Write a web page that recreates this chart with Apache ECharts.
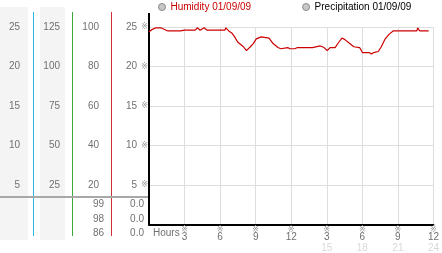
<!DOCTYPE html>
<html><head><meta charset="utf-8">
<script src="https://cdn.jsdelivr.net/npm/echarts@6/dist/echarts.min.js"></script>
<style>html,body{margin:0;padding:0;background:#fff}#c{width:442px;height:253px}</style>
</head><body><div id="c"></div>
<script>
// ---- data ----
const hours = [0.0,0.17,0.58,1.0,1.58,2.66,3.0,3.9,4.07,4.32,4.65,4.9,6.4,6.48,6.73,6.98,7.23,7.48,7.64,7.97,8.22,8.55,8.8,9.05,9.47,10.13,10.47,10.88,11.13,11.71,11.88,12.29,12.38,12.54,13.79,13.95,14.45,14.78,15.03,15.28,15.7,16.03,16.28,16.53,16.86,17.28,17.77,18.02,18.6,18.77,18.94,19.1,19.35,19.6,19.93,20.27,20.6,22.6,22.67,22.84,23.6];
const humidity = [24.4,24.6,24.9,24.9,24.5,24.5,24.6,24.6,24.9,24.6,24.9,24.6,24.6,24.9,24.5,24.25,23.75,23.1,23.25,22.5,22.0,22.5,22.9,23.5,23.75,23.6,22.9,22.4,22.25,22.4,22.25,22.25,22.1,22.4,22.4,22.6,22.6,22.4,22.0,22.4,22.4,23.1,23.6,23.4,23.0,22.5,22.4,21.75,21.75,21.6,21.75,21.6,21.9,22.5,23.5,24.1,24.5,24.5,24.9,24.5,24.5];
const precipitation = [];
const seriesNames = ['Humidity 01/09/09', 'Precipitation 01/09/09'];
const xTickValues = [3,6,9,12,15,18,21,24];
const xTickTop = ['3','6','9','12','3','6','9','12'];
const xTickBottom = ['','','','','15','18','21','24'];
const yTickValues = [5,10,15,20,25];
const yMainLabels = ['5','10','15','20','25'];
const yCol1Labels = ['5','10','15','20','25'];
const yCol2Labels = ['25','50','75','100','125'];
const yCol3Labels = ['20','40','60','80','100'];
const lowCol3 = ['99','98','86'];
const lowCol4 = ['0.0','0.0','0.0'];

// ---- chart ----
const FONT = 'Liberation Sans, Arial, sans-serif';
const GRAY = '#707070';
const MARK = {fontSize:8, color:'#9a9a9a', fontFamily:'DejaVu Sans'};
const chart = echarts.init(document.getElementById('c'), null, {renderer:'canvas'});
const lab = (arr) => (v) => { const i = yTickValues.indexOf(v); return i >= 0 ? arr[i] : ''; };
const extraY = (arr, offset) => ({
  type:'value', min:0, max:25, interval:5, position:'left', offset: offset,
  axisLine:{show:false}, axisTick:{show:false}, splitLine:{show:false},
  axisLabel:{formatter: lab(arr), color:GRAY, fontFamily:FONT, fontSize:10, margin:0}
});
const lowTexts = [];
lowCol3.forEach((t,i)=>lowTexts.push({type:'text', x:104, y:204.5+i*14.3, style:{text:t, fill:GRAY, font:'10px '+FONT, align:'right', verticalAlign:'middle'}}));
lowCol4.forEach((t,i)=>lowTexts.push({type:'text', x:144, y:204.5+i*14.3, style:{text:t, fill:GRAY, font:'10px '+FONT, align:'right', verticalAlign:'middle'}}));

chart.setOption({
  animation:false,
  backgroundColor:'#fff',
  legend:{
    left:158, top:2, padding:0, itemWidth:7, itemHeight:7, itemGap:51, icon:'circle',
    data:[
      {name:seriesNames[0], itemStyle:{color:'#c8c8c8', borderColor:'#8a8a8a', borderWidth:1}, textStyle:{color:'#cc0000'}},
      {name:seriesNames[1], itemStyle:{color:'#c8c8c8', borderColor:'#8a8a8a', borderWidth:1}, textStyle:{color:'#000'}}
    ],
    textStyle:{fontFamily:FONT, fontSize:10}
  },
  grid:{left:149, right:4, top:27, bottom:27, containLabel:false},
  xAxis:{
    type:'value', min:0, max:24, interval:3,
    axisLine:{show:true, lineStyle:{color:'#000', width:2}},
    axisTick:{show:false},
    splitLine:{show:true, lineStyle:{color:'#dedede', width:1}},
    axisLabel:{
      margin:2, showMinLabel:true, showMaxLabel:true,
      formatter:(v)=>{ const i = xTickValues.indexOf(v); if(i<0) return '';
        return '{m|※}\n{n|'+xTickTop[i]+'}' + (xTickBottom[i] ? '\n{f|'+xTickBottom[i]+'}' : ''); },
      rich:{
        m:Object.assign({lineHeight:6}, MARK),
        n:{fontSize:10, lineHeight:10, color:GRAY, fontFamily:FONT},
        f:{fontSize:10, lineHeight:11, color:'#d8d8d8', fontFamily:FONT}
      }
    }
  },
  yAxis:[
    {
      type:'value', min:0, max:25, interval:5, position:'left',
      axisLine:{show:true, lineStyle:{color:'#000', width:2}},
      axisTick:{show:false},
      splitLine:{show:true, lineStyle:{color:'#dedede', width:1}},
      axisLabel:{margin:1,
        formatter:(v)=>{ const i = yTickValues.indexOf(v); return i<0 ? '' : '{v|'+yMainLabels[i]+'}{m|※}'; },
        rich:{
          v:{fontSize:10, color:GRAY, fontFamily:FONT},
          m:Object.assign({width:11, align:'right'}, MARK)
        }
      }
    },
    extraY(yCol1Labels, 129),
    extraY(yCol2Labels, 89),
    extraY(yCol3Labels, 50)
  ],
  graphic:[
    {type:'rect', z:-10, shape:{x:0, y:7, width:28, height:233}, style:{fill:'#f4f4f4'}},
    {type:'rect', z:-10, shape:{x:40, y:7, width:25, height:233}, style:{fill:'#f4f4f4'}},
    {type:'line', shape:{x1:33.5, y1:12, x2:33.5, y2:236}, style:{stroke:'#30b4e0', lineWidth:1}},
    {type:'line', shape:{x1:72.5, y1:12, x2:72.5, y2:236}, style:{stroke:'#3aa83a', lineWidth:1}},
    {type:'line', shape:{x1:111.5, y1:12, x2:111.5, y2:236}, style:{stroke:'#d03038', lineWidth:1}},
    {type:'line', shape:{x1:0, y1:197, x2:149, y2:197}, style:{stroke:'#a8a8a8', lineWidth:2}},
    {type:'line', shape:{x1:149, y1:13, x2:149, y2:28}, style:{stroke:'#000', lineWidth:2}},
    {type:'text', x:153, y:228, style:{text:'Hours', fill:GRAY, font:'10px '+FONT}}
  ].concat(lowTexts),
  series:[
    {name:seriesNames[0], type:'line', data:hours.map((h,i)=>[h, humidity[i]]), showSymbol:false, symbol:'none',
     lineStyle:{color:'#cc0000', width:1.2}, itemStyle:{color:'#cc0000'}},
    {name:seriesNames[1], type:'line', data:precipitation, showSymbol:false, symbol:'none',
     lineStyle:{color:'#000', width:1}}
  ]
});
</script></body></html>
